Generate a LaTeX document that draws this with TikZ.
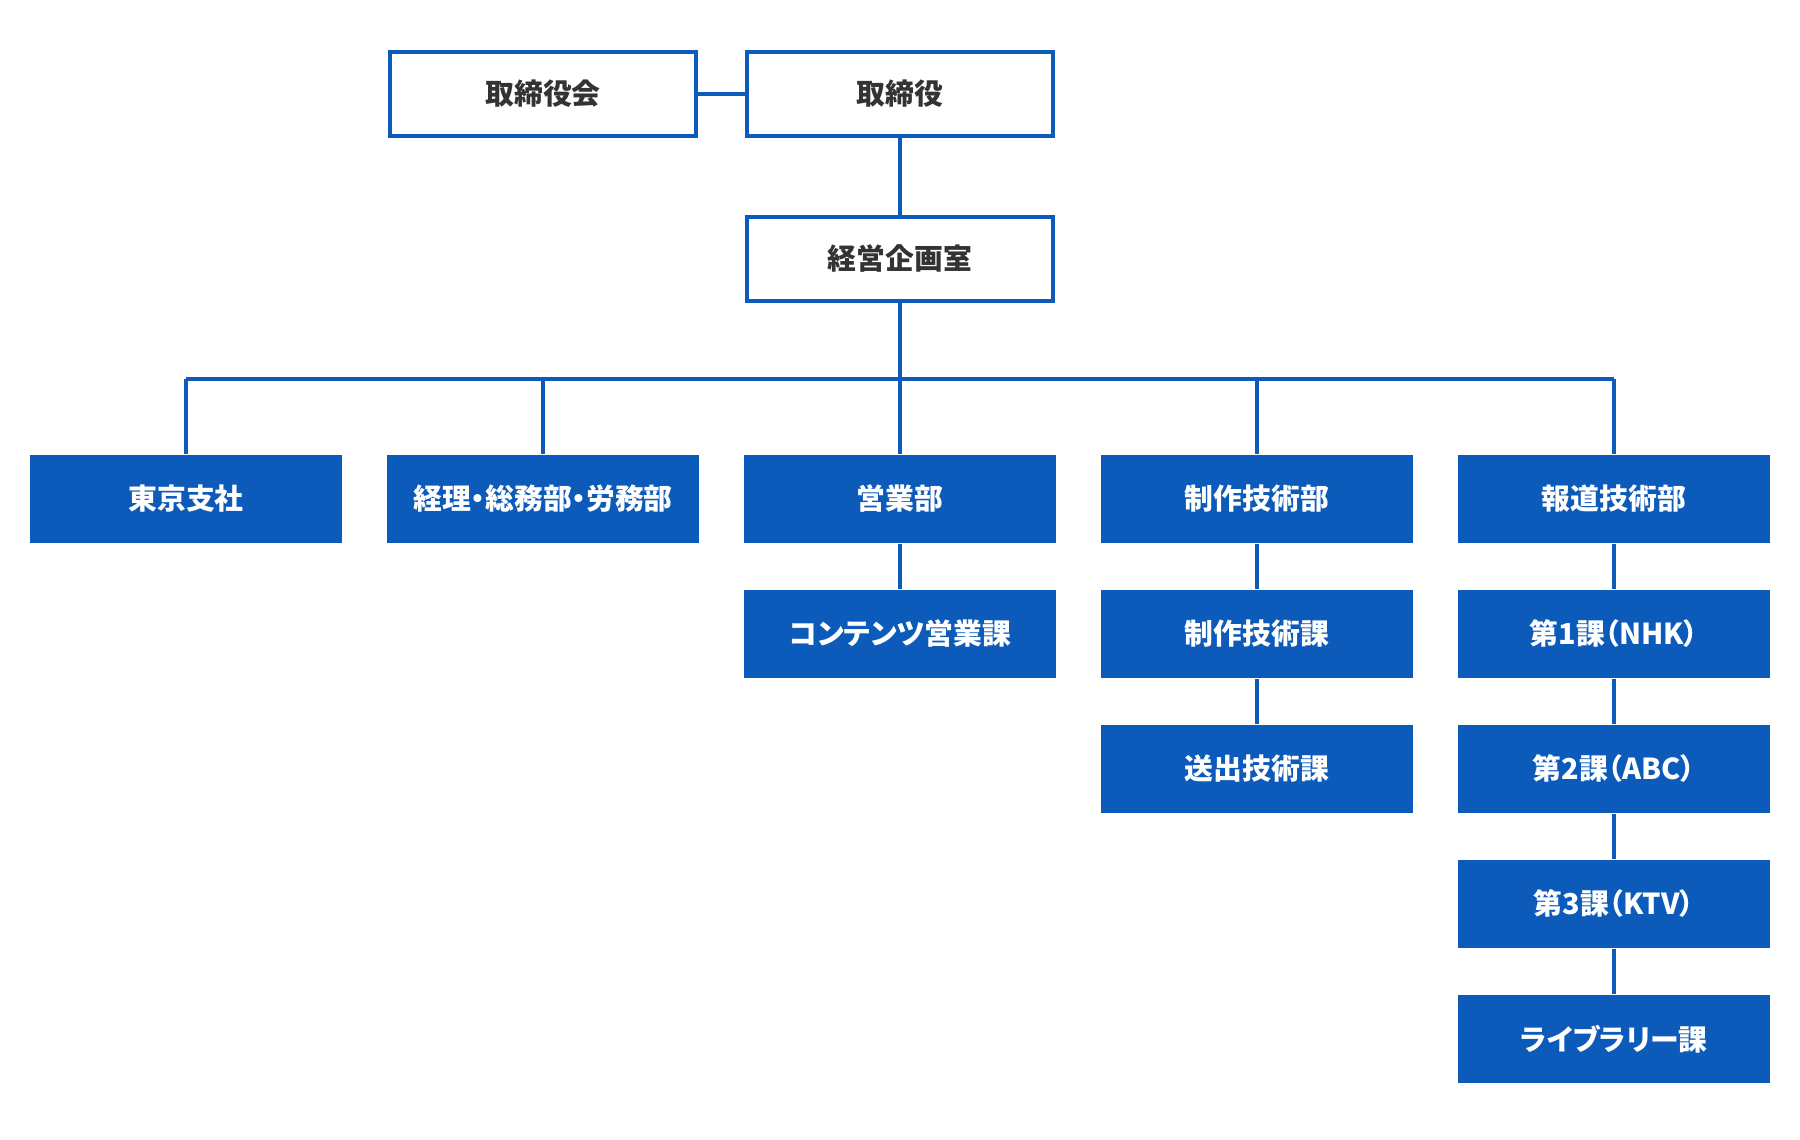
\documentclass[tikz,border=0pt]{standalone}
\usepackage{fontspec}
\setmainfont{Noto Sans CJK JP}[RawFeature=+palt]
\usetikzlibrary{positioning}
\definecolor{orgblue}{HTML}{0C5BBA}
\definecolor{orgtext}{HTML}{333333}
\tikzset{
  orgfont/.style={font=\bfseries\fontsize{8.2}{10}\selectfont},
  topbox/.style={draw=orgblue, line width=1pt, fill=white, text=orgtext, orgfont,
    minimum width=3.055cm, minimum height=0.835cm, inner sep=0pt},
  deptbox/.style={fill=orgblue, text=white, orgfont,
    minimum width=3.11cm, minimum height=0.88cm, inner sep=0pt},
  link/.style={draw=orgblue, line width=1pt}
}

\begin{document}
\begin{tikzpicture}[x=0.01cm, y=-0.01cm]
    \useasboundingbox (0,0) rectangle (1800,1140);
    % Board and directors
    \node[topbox] (board) at (543,94) {取締役会};
    \node[topbox] (exec) at (900,94) {取締役};
    \node[topbox] (plan) at (900,259) {経営企画室};
    % Departments
    \node[deptbox] (tokyo) at (186,499) {東京支社};
    \node[deptbox] (somu) at (543,499) {経理・総務部・労務部};
    \node[deptbox] (eigyo) at (900,499) {営業部};
    \node[deptbox] (seisaku) at (1257,499) {制作技術部};
    \node[deptbox] (hodo) at (1614,499) {報道技術部};
    % Sections
    \node[deptbox, below=0.455cm of eigyo] (content) {コンテンツ営業課};
    \node[deptbox, below=0.455cm of seisaku] (seika) {制作技術課};
    \node[deptbox, below=0.455cm of seika] (soshutsu) {送出技術課};
    \node[deptbox, below=0.455cm of hodo] (nhk) {第1課（NHK）};
    \node[deptbox, below=0.455cm of nhk] (abc) {第2課（ABC）};
    \node[deptbox, below=0.455cm of abc] (ktv) {第3課（KTV）};
    \node[deptbox, below=0.455cm of ktv] (library) {ライブラリー課};
    % Top links
    \draw[link] (board.east) -- (exec.west);
    \draw[link] (exec.south) -- (plan.north);
    % Bus to departments
    \coordinate (bus) at (900,379);
    \draw[link] (plan.south) -- (bus);
    \draw[link] (bus -| tokyo) -- (bus -| hodo);
    \foreach \d in {tokyo, somu, eigyo, seisaku, hodo}
        \draw[link] (bus -| \d) -- (\d.north);
    % Section chains
    \draw[link] (eigyo) -- (content);
    \draw[link] (seisaku) -- (seika) -- (soshutsu);
    \draw[link] (hodo) -- (nhk) -- (abc) -- (ktv) -- (library);
\end{tikzpicture}
\end{document}
